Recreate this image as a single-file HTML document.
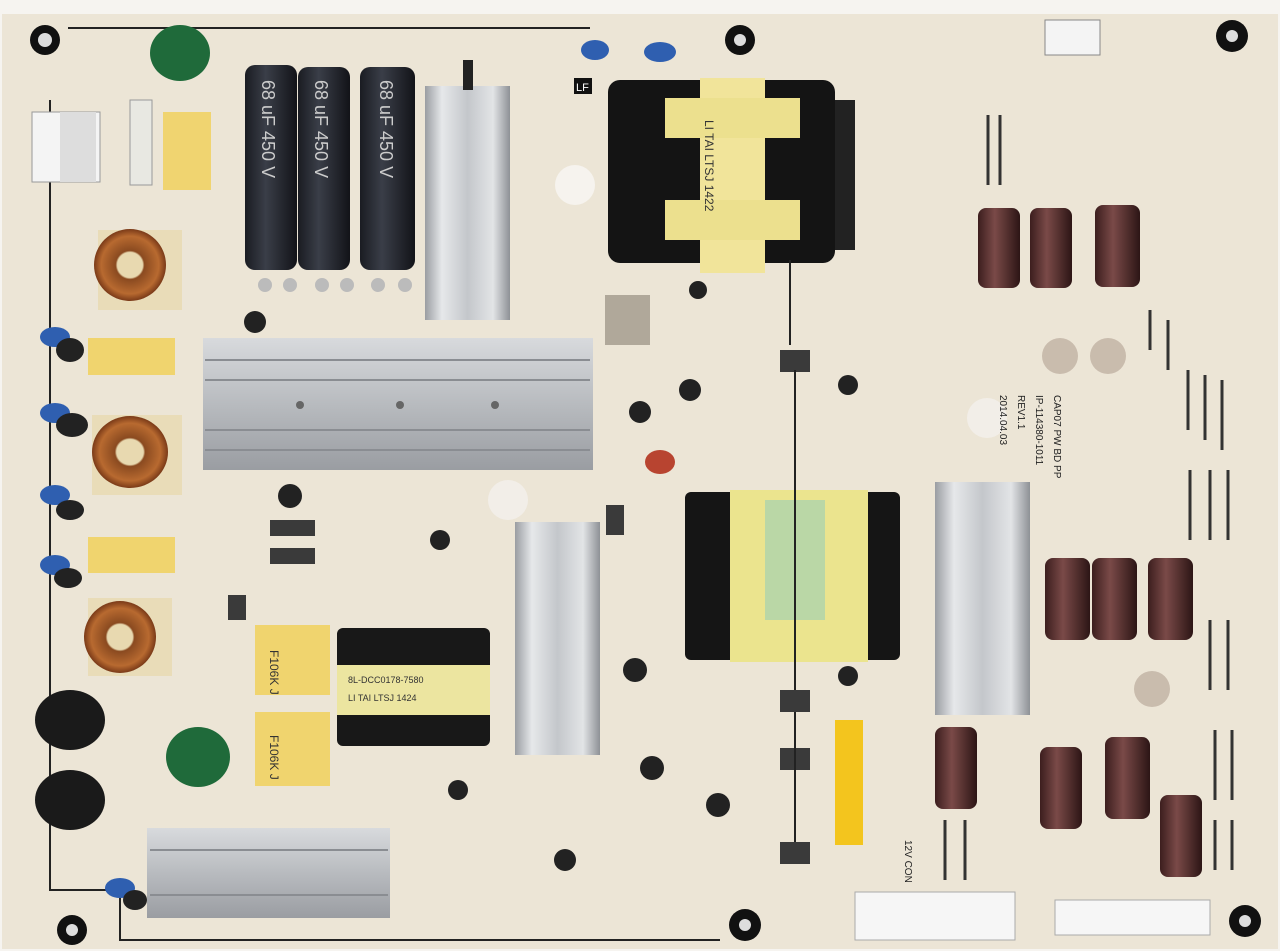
<!DOCTYPE html>
<html><head><meta charset="utf-8"><style>
html,body{margin:0;padding:0;background:#f4f1ec;}
svg{display:block}
text{font-family:"Liberation Sans",sans-serif}
</style></head><body>
<svg width="1280" height="951" viewBox="0 0 1280 951" xmlns="http://www.w3.org/2000/svg">
<defs>
<linearGradient id="hs" x1="0" y1="0" x2="1" y2="0">
<stop offset="0" stop-color="#9a9da2"/><stop offset="0.2" stop-color="#e6e8ea"/><stop offset="0.5" stop-color="#c4c7cb"/><stop offset="0.8" stop-color="#e2e4e6"/><stop offset="1" stop-color="#8e9196"/></linearGradient>
<linearGradient id="hh" x1="0" y1="0" x2="0" y2="1">
<stop offset="0" stop-color="#d8dadd"/><stop offset="0.5" stop-color="#b8bbbf"/><stop offset="1" stop-color="#9a9da2"/></linearGradient>
<linearGradient id="bc" x1="0" y1="0" x2="1" y2="0">
<stop offset="0" stop-color="#1a1c22"/><stop offset="0.4" stop-color="#3a3e48"/><stop offset="1" stop-color="#121318"/></linearGradient>
<linearGradient id="br" x1="0" y1="0" x2="1" y2="0">
<stop offset="0" stop-color="#3c1e1e"/><stop offset="0.4" stop-color="#7a4a48"/><stop offset="1" stop-color="#2c1515"/></linearGradient>
<radialGradient id="tor"><stop offset="0" stop-color="#e8d9b0"/><stop offset="0.35" stop-color="#e8d9b0"/><stop offset="0.4" stop-color="#8a4a20"/><stop offset="0.8" stop-color="#b86a30"/><stop offset="1" stop-color="#7a3a18"/></radialGradient>
</defs>
<rect x="0" y="0" width="1280" height="951" fill="#f6f4f0"/>
<rect x="2" y="14" width="1276" height="935" fill="#ece5d6"/>
<polyline points="68,28 590,28" stroke="#222" stroke-width="2" fill="none"/>
<polyline points="50,100 50,890 120,890 120,940 720,940" stroke="#222" stroke-width="2" fill="none"/>
<g fill="#111"><circle cx="45" cy="40" r="15"/><circle cx="740" cy="40" r="15"/><circle cx="1232" cy="36" r="16"/><circle cx="72" cy="930" r="15"/><circle cx="745" cy="925" r="16"/><circle cx="1245" cy="921" r="16"/></g>
<g fill="#ddd"><circle cx="45" cy="40" r="7"/><circle cx="740" cy="40" r="6"/><circle cx="1232" cy="36" r="6"/><circle cx="72" cy="930" r="6"/><circle cx="745" cy="925" r="6"/><circle cx="1245" cy="921" r="6"/></g>
<rect x="32" y="112" width="68" height="70" fill="#f4f4f4" stroke="#999"/>
<rect x="60" y="112" width="36" height="70" fill="#ddd"/>
<rect x="130" y="100" width="22" height="85" fill="#e8e8e2" stroke="#999"/>
<rect x="163" y="112" width="48" height="78" fill="#f0d470"/>
<ellipse cx="180" cy="53" rx="30" ry="28" fill="#1f6a3a"/>
<ellipse cx="198" cy="757" rx="32" ry="30" fill="#1f6a3a"/>
<rect x="245" y="65" width="52" height="205" rx="10" fill="url(#bc)"/>
<rect x="298" y="67" width="52" height="203" rx="10" fill="url(#bc)"/>
<rect x="360" y="67" width="55" height="203" rx="10" fill="url(#bc)"/>
<g fill="#ccc" font-size="18" transform="rotate(90)">
<text x="80" y="-262">68 uF 450 V</text><text x="80" y="-315">68 uF 450 V</text><text x="80" y="-380">68 uF 450 V</text></g>
<g fill="#bbb"><circle cx="265" cy="285" r="7"/><circle cx="290" cy="285" r="7"/><circle cx="322" cy="285" r="7"/><circle cx="347" cy="285" r="7"/><circle cx="378" cy="285" r="7"/><circle cx="405" cy="285" r="7"/></g>
<rect x="425" y="86" width="85" height="234" fill="url(#hs)"/>
<rect x="463" y="60" width="10" height="30" fill="#222"/>
<rect x="203" y="338" width="390" height="132" fill="url(#hh)"/>
<g stroke="#8a8d92" stroke-width="2"><line x1="205" y1="360" x2="590" y2="360"/><line x1="205" y1="380" x2="590" y2="380"/><line x1="205" y1="430" x2="590" y2="430"/><line x1="205" y1="450" x2="590" y2="450"/></g>
<circle cx="300" cy="405" r="4" fill="#666"/><circle cx="400" cy="405" r="4" fill="#666"/><circle cx="495" cy="405" r="4" fill="#666"/>
<rect x="515" y="522" width="85" height="233" fill="url(#hs)"/>
<rect x="935" y="482" width="95" height="233" fill="url(#hs)"/>
<rect x="147" y="828" width="243" height="90" fill="url(#hh)"/>
<g stroke="#8a8d92" stroke-width="2"><line x1="150" y1="850" x2="388" y2="850"/><line x1="150" y1="895" x2="388" y2="895"/></g>
<rect x="608" y="80" width="227" height="183" rx="12" fill="#141414"/>
<rect x="835" y="100" width="20" height="150" fill="#222"/>
<rect x="700" y="78" width="65" height="195" fill="#f1e49a"/>
<rect x="665" y="98" width="135" height="40" fill="#ece08e"/>
<rect x="665" y="200" width="135" height="40" fill="#ece08e"/>
<text x="705" y="120" font-size="12" fill="#333" transform="rotate(90 705 120)">LI TAI LTSJ 1422</text>
<rect x="685" y="492" width="215" height="168" rx="6" fill="#151515"/>
<rect x="730" y="490" width="138" height="172" fill="#ebe48e"/>
<rect x="765" y="500" width="60" height="120" fill="#a5d2b0" opacity="0.7"/>
<rect x="337" y="628" width="153" height="118" rx="6" fill="#181818"/>
<rect x="337" y="665" width="153" height="50" fill="#ece5a0"/>
<text x="348" y="683" font-size="9" fill="#333">8L-DCC0178-7580</text>
<text x="348" y="701" font-size="9" fill="#333">LI TAI LTSJ 1424</text>
<rect x="255" y="625" width="75" height="70" fill="#f0d46e"/>
<rect x="255" y="712" width="75" height="74" fill="#f0d46e"/>
<text x="270" y="650" font-size="12" fill="#333" transform="rotate(90 270 650)">F106K J</text>
<text x="270" y="735" font-size="12" fill="#333" transform="rotate(90 270 735)">F106K J</text>
<rect x="88" y="338" width="87" height="37" fill="#f0d46e"/>
<rect x="88" y="537" width="87" height="36" fill="#f0d46e"/>
<rect x="98" y="230" width="84" height="80" fill="#e9dcb8"/><ellipse cx="130" cy="265" rx="36" ry="36" fill="url(#tor)"/>
<rect x="92" y="415" width="90" height="80" fill="#e9dcb8"/><ellipse cx="130" cy="452" rx="38" ry="36" fill="url(#tor)"/>
<rect x="88" y="598" width="84" height="78" fill="#e9dcb8"/><ellipse cx="120" cy="637" rx="36" ry="36" fill="url(#tor)"/>
<ellipse cx="70" cy="720" rx="35" ry="30" fill="#1a1a1a"/>
<ellipse cx="70" cy="800" rx="35" ry="30" fill="#1a1a1a"/>
<g fill="#2f5fb0"><ellipse cx="55" cy="337" rx="15" ry="10"/><ellipse cx="55" cy="413" rx="15" ry="10"/><ellipse cx="55" cy="495" rx="15" ry="10"/><ellipse cx="55" cy="565" rx="15" ry="10"/><ellipse cx="120" cy="888" rx="15" ry="10"/><ellipse cx="595" cy="50" rx="14" ry="10"/><ellipse cx="660" cy="52" rx="16" ry="10"/></g>
<g fill="#222"><ellipse cx="70" cy="350" rx="14" ry="12"/><ellipse cx="72" cy="425" rx="16" ry="12"/><ellipse cx="70" cy="510" rx="14" ry="10"/><ellipse cx="68" cy="578" rx="14" ry="10"/><ellipse cx="135" cy="900" rx="12" ry="10"/></g>
<g fill="url(#br)">
<rect x="978" y="208" width="42" height="80" rx="8"/><rect x="1030" y="208" width="42" height="80" rx="8"/><rect x="1095" y="205" width="45" height="82" rx="8"/>
<rect x="1045" y="558" width="45" height="82" rx="8"/><rect x="1092" y="558" width="45" height="82" rx="8"/><rect x="1148" y="558" width="45" height="82" rx="8"/>
<rect x="935" y="727" width="42" height="82" rx="8"/><rect x="1040" y="747" width="42" height="82" rx="8"/><rect x="1105" y="737" width="45" height="82" rx="8"/><rect x="1160" y="795" width="42" height="82" rx="8"/>
</g>
<g fill="#c9bcad"><circle cx="1060" cy="356" r="18"/><circle cx="1108" cy="356" r="18"/><circle cx="1152" cy="689" r="18"/></g>
<rect x="605" y="295" width="45" height="50" fill="#b0a89a"/>
<ellipse cx="660" cy="462" rx="15" ry="12" fill="#b84430"/>
<g fill="#222"><circle cx="440" cy="540" r="10"/><circle cx="635" cy="670" r="12"/><circle cx="652" cy="768" r="12"/><circle cx="718" cy="805" r="12"/><circle cx="690" cy="390" r="11"/><circle cx="640" cy="412" r="11"/><circle cx="848" cy="385" r="10"/><circle cx="848" cy="676" r="10"/><circle cx="290" cy="496" r="12"/><circle cx="458" cy="790" r="10"/><circle cx="565" cy="860" r="11"/><circle cx="255" cy="322" r="11"/><circle cx="698" cy="290" r="9"/></g>
<g fill="#3a3a3a"><rect x="780" y="350" width="30" height="22"/><rect x="780" y="690" width="30" height="22"/><rect x="780" y="748" width="30" height="22"/><rect x="780" y="842" width="30" height="22"/><rect x="606" y="505" width="18" height="30"/><rect x="270" y="520" width="45" height="16"/><rect x="270" y="548" width="45" height="16"/><rect x="228" y="595" width="18" height="25"/></g>
<circle cx="575" cy="185" r="20" fill="#f6f3ee"/><circle cx="508" cy="500" r="20" fill="#f2eee8"/><circle cx="987" cy="418" r="20" fill="#f2eee8"/>
<rect x="835" y="720" width="28" height="125" fill="#f3c51e"/>
<rect x="855" y="892" width="160" height="48" fill="#f6f6f6" stroke="#aaa"/>
<rect x="1055" y="900" width="155" height="35" fill="#f6f6f6" stroke="#aaa"/>
<rect x="1045" y="20" width="55" height="35" fill="#f4f4f4" stroke="#888"/>
<g stroke="#333" stroke-width="3">
<line x1="988" y1="115" x2="988" y2="185"/><line x1="1000" y1="115" x2="1000" y2="185"/>
<line x1="1150" y1="310" x2="1150" y2="350"/><line x1="1168" y1="320" x2="1168" y2="370"/>
<line x1="1188" y1="370" x2="1188" y2="430"/><line x1="1205" y1="375" x2="1205" y2="440"/><line x1="1222" y1="380" x2="1222" y2="450"/>
<line x1="1190" y1="470" x2="1190" y2="540"/><line x1="1210" y1="470" x2="1210" y2="540"/><line x1="1228" y1="470" x2="1228" y2="540"/>
<line x1="1210" y1="620" x2="1210" y2="690"/><line x1="1228" y1="620" x2="1228" y2="690"/>
<line x1="1215" y1="730" x2="1215" y2="800"/><line x1="1232" y1="730" x2="1232" y2="800"/>
<line x1="1215" y1="820" x2="1215" y2="870"/><line x1="1232" y1="820" x2="1232" y2="870"/>
<line x1="945" y1="820" x2="945" y2="880"/><line x1="965" y1="820" x2="965" y2="880"/>
</g>
<g font-size="10" fill="#222">
<text x="1000" y="395" transform="rotate(90 1000 395)">2014.04.03</text>
<text x="1018" y="395" transform="rotate(90 1018 395)">REV1.1</text>
<text x="1036" y="395" transform="rotate(90 1036 395)">IP-114380-1011</text>
<text x="1054" y="395" transform="rotate(90 1054 395)">CAP07 PW BD PP</text>
<text x="905" y="840" transform="rotate(90 905 840)">12V CON</text>
</g>
<rect x="574" y="78" width="18" height="16" fill="#111"/><text x="576" y="91" font-size="11" fill="#fff">LF</text>
<g stroke="#222" stroke-width="2"><line x1="790" y1="260" x2="790" y2="345"/><line x1="795" y1="370" x2="795" y2="690"/><line x1="795" y1="712" x2="795" y2="842"/></g>
</svg>
</body></html>
